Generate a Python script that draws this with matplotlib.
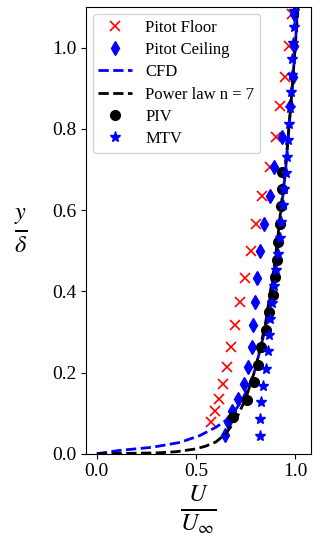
import numpy as np
import matplotlib
matplotlib.use('Agg')
import matplotlib.pyplot as plt

plt.rcParams['font.family'] = ['Liberation Serif', 'DejaVu Serif']
plt.rcParams['mathtext.fontset'] = 'stix'

# Pitot Floor (red x)
floor_y = [0.078, 0.106, 0.135, 0.172, 0.213, 0.263, 0.317, 0.373, 0.433, 0.499,
           0.566, 0.636, 0.707, 0.780, 0.856, 0.927, 1.005, 1.083]
floor_u = [0.576, 0.598, 0.618, 0.638, 0.658, 0.674, 0.695, 0.721, 0.746, 0.775,
           0.801, 0.835, 0.874, 0.902, 0.924, 0.949, 0.970, 0.983]

# Pitot Ceiling (blue diamonds)
ceil_y = [0.047, 0.078, 0.106, 0.135, 0.172, 0.213, 0.263, 0.317, 0.373, 0.433,
          0.499, 0.566, 0.636, 0.707, 0.780, 0.856, 0.927, 1.005, 1.083]
ceil_u = [0.645, 0.662, 0.683, 0.714, 0.740, 0.764, 0.781, 0.788, 0.795, 0.808,
          0.825, 0.841, 0.874, 0.895, 0.933, 0.972, 0.988, 0.992, 0.995]

# CFD (blue dashed)
cfd_u = [0.0, 0.11, 0.28, 0.42, 0.52, 0.60, 0.65, 0.69, 0.73, 0.77, 0.80, 0.85,
         0.90, 0.95, 0.98, 1.0, 1.012]
cfd_y = [0.0, 0.008, 0.016, 0.028, 0.045, 0.065, 0.082, 0.102, 0.13, 0.17, 0.21,
         0.31, 0.47, 0.69, 0.87, 1.0, 1.1]

# Power law n = 7 (black dashed)
pl_u = [0.0, 0.30, 0.40, 0.50, 0.55, 0.60, 0.65, 0.70, 0.75, 0.80, 0.85, 0.90,
        0.95, 0.98, 1.0, 1.014]
pl_y = [0.0, 0.002, 0.005, 0.012, 0.019, 0.029, 0.049, 0.083, 0.135, 0.21, 0.32,
        0.48, 0.70, 0.87, 1.0, 1.1]

# PIV (black circles)
piv_y = [0.090, 0.132, 0.176, 0.218, 0.262, 0.304, 0.349, 0.391, 0.435, 0.477,
         0.522, 0.567, 0.609, 0.651, 0.694]
piv_u = [0.689, 0.757, 0.790, 0.812, 0.830, 0.854, 0.870, 0.887, 0.899, 0.907,
         0.913, 0.921, 0.926, 0.932, 0.936]

# MTV (blue stars)
mtv_y = [0.044, 0.086, 0.128, 0.168, 0.209, 0.252, 0.292, 0.331, 0.372, 0.412,
         0.452, 0.492, 0.532, 0.572, 0.612, 0.652, 0.692, 0.732, 0.772, 0.812,
         0.852, 0.892, 0.932, 0.972, 1.012, 1.052, 1.090]
mtv_u = [0.821, 0.825, 0.829, 0.840, 0.855, 0.862, 0.866, 0.874, 0.882, 0.892,
         0.902, 0.912, 0.921, 0.930, 0.940, 0.946, 0.952, 0.958, 0.963, 0.968,
         0.973, 0.978, 0.982, 0.986, 0.990, 0.993, 0.996]

fig = plt.figure(figsize=(3.23, 5.5), dpi=100)
ax = fig.add_axes([0.266, 0.175, 0.697, 0.812])

ax.plot(floor_u, floor_y, 'x', color='red', ms=7, mew=1.2, label='Pitot Floor')
ax.plot(ceil_u, ceil_y, 'd', color='blue', ms=7, label='Pitot Ceiling')
ax.plot(cfd_u, cfd_y, '--', color='blue', lw=2, label='CFD')
ax.plot(pl_u, pl_y, '--', color='black', lw=2, label='Power law n = 7')
ax.plot(piv_u, piv_y, 'o', color='black', ms=7, label='PIV')
ax.plot(mtv_u, mtv_y, '*', color='blue', ms=8, label='MTV')

ax.set_xlim(-0.055, 1.08)
ax.set_ylim(0, 1.1)
ax.set_xticks([0.0, 0.5, 1.0])
ax.set_yticks([0.0, 0.2, 0.4, 0.6, 0.8, 1.0])
ax.tick_params(labelsize=14)

ax.set_xlabel(r'$\frac{U}{U_{\infty}}$', fontsize=25, labelpad=2)
ax.set_ylabel(r'$\frac{y}{\delta}$', fontsize=25, rotation=0, labelpad=22, va='center')

ax.legend(loc='upper left', fontsize=12, borderaxespad=0.4, labelspacing=0.38,
          borderpad=0.35)

fig.savefig('out.png', dpi=100)
